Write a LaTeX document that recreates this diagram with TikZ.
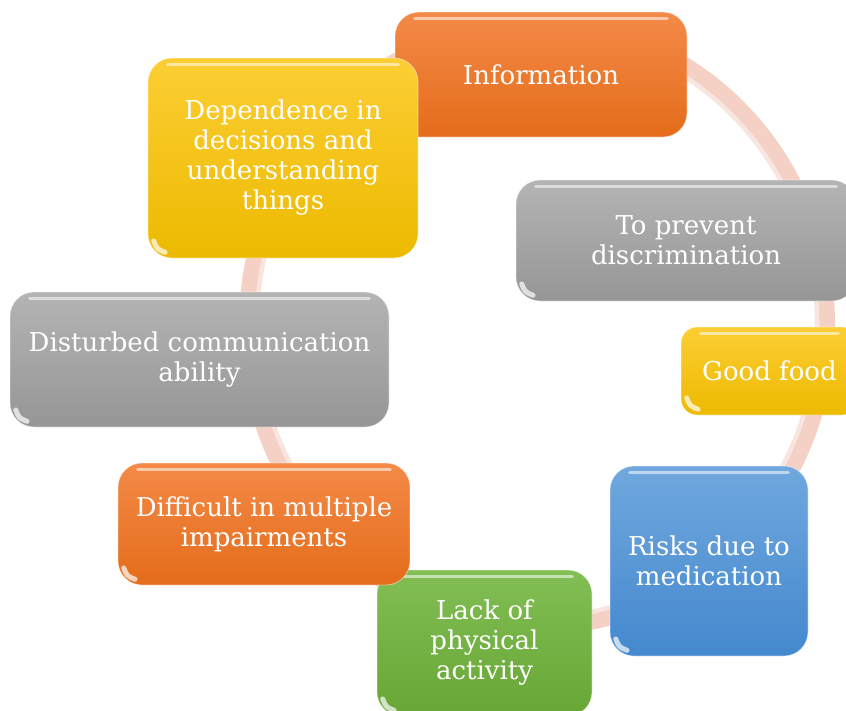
\documentclass[tikz,border=0pt]{standalone}
\usepackage{fontspec}
\setmainfont{DejaVu Serif}
\definecolor{ringc}{RGB}{244,208,197}
\definecolor{orT}{RGB}{244,138,72}
\definecolor{orB}{RGB}{228,108,26}
\definecolor{yeT}{RGB}{252,206,52}
\definecolor{yeB}{RGB}{236,186,0}
\definecolor{grT}{RGB}{180,180,180}
\definecolor{grB}{RGB}{150,150,150}
\definecolor{blT}{RGB}{112,168,222}
\definecolor{blB}{RGB}{68,136,206}
\definecolor{gnT}{RGB}{130,190,84}
\definecolor{gnB}{RGB}{104,166,54}
\tikzset{
  card/.style={rounded corners=24pt, inner sep=0pt, align=center, text=white,
    font=\fontsize{26}{30}\selectfont, draw=white, draw opacity=0.5, line width=0.8pt},
  orangecard/.style={card, top color=orT, bottom color=orB},
  yellowcard/.style={card, top color=yeT, bottom color=yeB},
  graycard/.style={card, top color=grT, bottom color=grB},
  bluecard/.style={card, top color=blT, bottom color=blB},
  greencard/.style={card, top color=gnT, bottom color=gnB},
  gloss/.style={white, opacity=0.55, line width=3pt, line cap=round},
  blob/.style={white, opacity=0.7, line width=5pt, line cap=round},
}
\newcommand{\glossy}[1]{%
  \draw[gloss] ([xshift=20pt,yshift=-7pt]#1.north west) -- ([xshift=-20pt,yshift=-7pt]#1.north east);
  \draw[blob] ([xshift=6.1pt,yshift=17.5pt]#1.south west) .. controls ([xshift=9.4pt,yshift=9.4pt]#1.south west) .. ([xshift=17.5pt,yshift=6.1pt]#1.south west);
}
\begin{document}
\begin{tikzpicture}[x=1pt,y=-1pt]
\clip (0,0) rectangle (846,710);
\fill[white] (0,0) rectangle (846,710);
% ring
\draw[ringc, line width=20pt] (537,325) ellipse [x radius=288, y radius=300];
\draw[white, opacity=0.45, line width=5pt] (537,325) ellipse [x radius=280, y radius=292];
% cards
\node[orangecard, minimum width=292pt, minimum height=125pt] (info) at (541,74.5) {Information};
\glossy{info}
\node[yellowcard, minimum width=270pt, minimum height=200pt] (dep) at (283,158) {Dependence in\\decisions and\\understanding\\things};
\glossy{dep}
\node[graycard, minimum width=340pt, minimum height=121pt] (prev) at (686,240.5) {To prevent\\discrimination};
\glossy{prev}
\node[yellowcard, rounded corners=16pt, minimum width=177pt, minimum height=88pt] (food) at (769.5,371) {Good food};
\glossy{food}
\node[graycard, minimum width=379pt, minimum height=135pt] (dist) at (199.5,359.5) {Disturbed communication\\ability};
\glossy{dist}
\node[greencard, minimum width=215pt, minimum height=146pt] (lack) at (484.5,643) {Lack of\\physical\\activity};
\glossy{lack}
\node[orangecard, minimum width=292pt, minimum height=122pt] (diff) at (264,524) {Difficult in multiple\\impairments};
\glossy{diff}
\node[bluecard, minimum width=198pt, minimum height=190pt] (risk) at (709,561) {Risks due to\\medication};
\glossy{risk}
\end{tikzpicture}
\end{document}
